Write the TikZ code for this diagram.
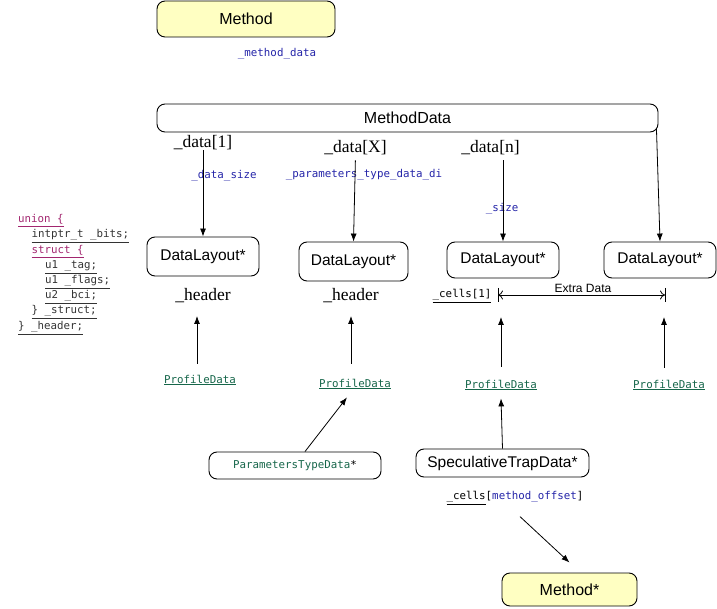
\documentclass[tikz,border=0pt]{standalone}
\usepackage{fontspec}
\newfontfamily\hv{Liberation Sans}
\newfontfamily\mono{DejaVu Sans Mono}
\newfontfamily\tms{Liberation Serif}
\usetikzlibrary{arrows.meta}
\definecolor{myellow}{HTML}{FFFFC2}
\definecolor{cblue}{HTML}{2424A8}
\definecolor{cgreen}{HTML}{16664A}
\definecolor{cmag}{HTML}{A2266F}
\definecolor{cgray}{HTML}{333333}
\begin{document}
\begin{tikzpicture}[x=1pt,y=-1pt,
  box/.style={draw, line width=0.9pt, rounded corners=8pt, inner sep=0pt, font=\hv\fontsize{15.5}{18}\selectfont},
  ybox/.style={box, fill=myellow, font=\hv\fontsize{16}{19}\selectfont},
  code/.style={inner sep=0pt, font=\mono\fontsize{10.8}{13}\selectfont, text=cblue},
  pdata/.style={inner sep=0pt, font=\mono\fontsize{10.8}{13}\selectfont, text=cgreen},
  un/.style={inner sep=0pt, anchor=base west, font=\mono\fontsize{10.8}{13}\selectfont, text=cgray},
  ser/.style={inner sep=0pt, font=\tms\fontsize{17.5}{20}\selectfont},
  arr/.style={-{Latex[length=8pt,width=6pt]}, line width=0.8pt},
]
\useasboundingbox (0,0) rectangle (717,609);

% top
\node[ybox, minimum width=178pt, minimum height=36pt] (method) at (246,19) {Method};
\node[code] (mdlbl) at (277,54) {\_method\_data};
\node[box, minimum width=501pt, minimum height=28pt, font=\hv\fontsize{16}{19}\selectfont] (mdata) at (407.5,118) {MethodData};

% data labels
\node[ser] (d1) at (203,143) {\_data[1]};
\node[ser] (dX) at (355.5,148) {\_data[X]};
\node[ser] (dn) at (490.5,148) {\_data[n]};
\node[code] (ds1) at (224,176) {\_data\_size};
\node[code] (ds2) at (364,175) {\_parameters\_type\_data\_di};
\node[code] (ds3) at (502,209) {\_size};

% DataLayout boxes
\node[box, minimum width=112pt, minimum height=39pt] (dl1) at (203,256.5) {DataLayout*};
\node[box, minimum width=109pt, minimum height=39pt] (dl2) at (353.5,261.5) {DataLayout*};
\node[box, minimum width=112pt, minimum height=36pt] (dl3) at (503,260) {DataLayout*};
\node[box, minimum width=112pt, minimum height=36pt] (dl4) at (660,260) {DataLayout*};

\draw[arr] (d1.south) -- (dl1.north);
\draw[arr, shorten <=5pt] (dX.south) -- (dl2.north);
\draw[arr, shorten <=5pt] (dn.south -| dl3.north) -- (dl3.north);
\draw[arr] ([xshift=-2pt,yshift=4pt]mdata.south east) -- (dl4.north);

% union
\node[un] (u1) at (18,223) {\textcolor{cmag}{\underline{union \{}}};
\node[un] (u2) at (31.5,238) {\underline{intptr\_t \_bits;}};
\node[un] (u3) at (31.5,254) {\textcolor{cmag}{\underline{struct \{}}};
\node[un] (u4) at (45,269) {\underline{u1 \_tag;}};
\node[un] (u5) at (45,284) {\underline{u1 \_flags;}};
\node[un] (u6) at (45,299) {\underline{u2 \_bci;}};
\node[un] (u7) at (31.5,314) {\underline{\} \_struct;}};
\node[un] (u8) at (18,330) {\underline{\} \_header;}};

% header row
\node[ser] (h1) at (203,296) {\_header};
\node[ser] (h2) at (351,296) {\_header};
\node[inner sep=0pt, font=\mono\fontsize{10.8}{13}\selectfont] (cells) at (462,296) {\underline{\_cells[1]}};
\coordinate (xl) at (498,295);
\coordinate (xr) at (665,295);
\draw[line width=0.8pt, {To[length=5pt,width=9pt]}-{To[length=5pt,width=9pt]}] (xl) -- (xr);
\draw[line width=0.8pt] (xl) ++(0,-7) -- ++(0,14);
\draw[line width=0.8pt] (xr) ++(0,-7) -- ++(0,14);
\node[inner sep=0pt, font=\hv\fontsize{12}{14}\selectfont] (extra) at (583,288.5) {Extra Data};

% ProfileData
\node[pdata] (pd1) at (200,380) {\underline{ProfileData}};
\node[pdata] (pd2) at (355,384) {\underline{ProfileData}};
\node[pdata] (pd3) at (501,385) {\underline{ProfileData}};
\node[pdata] (pd4) at (669,385) {\underline{ProfileData}};
\coordinate (t1) at (197,316);
\coordinate (t2) at (351,316);
\coordinate (t3) at (501,317);
\coordinate (t4) at (664,317);
\draw[arr, shorten <=11pt] (pd1.north -| t1) -- (t1);
\draw[arr, shorten <=15pt] (pd2.north -| t2) -- (t2);
\draw[arr, shorten <=13pt] (pd3.north -| t3) -- (t3);
\draw[arr, shorten <=12pt] (pd4.north -| t4) -- (t4);

% lower boxes
\node[box, minimum width=172pt, minimum height=27pt, font=\mono\fontsize{10.8}{13}\selectfont] (ptd) at (295,465.5) {\textcolor{cgreen}{ParametersTypeData}*};
\node[box, minimum width=173pt, minimum height=28pt] (std) at (502.5,463) {SpeculativeTrapData*};
\node[inner sep=0pt, font=\mono\fontsize{10.8}{13}\selectfont] (cm) at (515,498) {\underline{\_cells}[\textcolor{cblue}{method\_offset}]};
\node[ybox, minimum width=135pt, minimum height=33pt] (mstar) at (569.5,589.5) {Method*};

\draw[arr] ([xshift=10pt]ptd.north) -- ([xshift=-8pt,yshift=-8pt]pd2.south);
\draw[arr] (std.north) -- ([yshift=-8pt]pd3.south);
\draw[arr] ([xshift=5pt,yshift=-12pt]cm.south) -- ([yshift=10pt]mstar.north);
\end{tikzpicture}
\end{document}
